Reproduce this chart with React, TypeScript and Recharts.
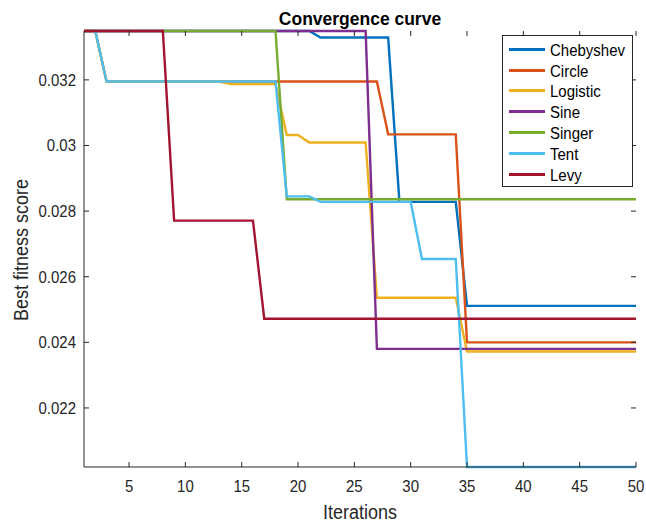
import React from 'react';
import { LineChart, Line, XAxis, YAxis } from 'recharts';

// ---------- data ----------
const iterations = [
  1, 2, 3, 4, 5, 6, 7, 8, 9, 10,
  11, 12, 13, 14, 15, 16, 17, 18, 19, 20,
  21, 22, 23, 24, 25, 26, 27, 28, 29, 30,
  31, 32, 33, 34, 35, 36, 37, 38, 39, 40,
  41, 42, 43, 44, 45, 46, 47, 48, 49, 50,
];

const chebyshev = [
  0.03349, 0.03349, 0.03349, 0.03349, 0.03349, 0.03349, 0.03349, 0.03349, 0.03349, 0.03349,
  0.03349, 0.03349, 0.03349, 0.03349, 0.03349, 0.03349, 0.03349, 0.03349, 0.03349, 0.03349,
  0.03349, 0.03329, 0.03329, 0.03329, 0.03329, 0.03329, 0.03329, 0.03329, 0.02828, 0.02828,
  0.02828, 0.02828, 0.02828, 0.02828, 0.02511, 0.02511, 0.02511, 0.02511, 0.02511, 0.02511,
  0.02511, 0.02511, 0.02511, 0.02511, 0.02511, 0.02511, 0.02511, 0.02511, 0.02511, 0.02511,
];

const circle = [
  0.03349, 0.03349, 0.03195, 0.03195, 0.03195, 0.03195, 0.03195, 0.03195, 0.03195, 0.03195,
  0.03195, 0.03195, 0.03195, 0.03195, 0.03195, 0.03195, 0.03195, 0.03195, 0.03195, 0.03195,
  0.03195, 0.03195, 0.03195, 0.03195, 0.03195, 0.03195, 0.03195, 0.03034, 0.03034, 0.03034,
  0.03034, 0.03034, 0.03034, 0.03034, 0.024, 0.024, 0.024, 0.024, 0.024, 0.024,
  0.024, 0.024, 0.024, 0.024, 0.024, 0.024, 0.024, 0.024, 0.024, 0.024,
];

const logistic = [
  0.03349, 0.03349, 0.03195, 0.03195, 0.03195, 0.03195, 0.03195, 0.03195, 0.03195, 0.03195,
  0.03195, 0.03195, 0.03195, 0.03187, 0.03187, 0.03187, 0.03187, 0.03187, 0.03032, 0.03032,
  0.03009, 0.03009, 0.03009, 0.03009, 0.03009, 0.03009, 0.02536, 0.02536, 0.02536, 0.02536,
  0.02536, 0.02536, 0.02536, 0.02536, 0.02372, 0.02372, 0.02372, 0.02372, 0.02372, 0.02372,
  0.02372, 0.02372, 0.02372, 0.02372, 0.02372, 0.02372, 0.02372, 0.02372, 0.02372, 0.02372,
];

const sine = [
  0.03349, 0.03349, 0.03349, 0.03349, 0.03349, 0.03349, 0.03349, 0.03349, 0.03349, 0.03349,
  0.03349, 0.03349, 0.03349, 0.03349, 0.03349, 0.03349, 0.03349, 0.03349, 0.03349, 0.03349,
  0.03349, 0.03349, 0.03349, 0.03349, 0.03349, 0.03349, 0.0238, 0.0238, 0.0238, 0.0238,
  0.0238, 0.0238, 0.0238, 0.0238, 0.0238, 0.0238, 0.0238, 0.0238, 0.0238, 0.0238,
  0.0238, 0.0238, 0.0238, 0.0238, 0.0238, 0.0238, 0.0238, 0.0238, 0.0238, 0.0238,
];

const singer = [
  0.03349, 0.03349, 0.03349, 0.03349, 0.03349, 0.03349, 0.03349, 0.03349, 0.03349, 0.03349,
  0.03349, 0.03349, 0.03349, 0.03349, 0.03349, 0.03349, 0.03349, 0.03349, 0.02836, 0.02836,
  0.02836, 0.02836, 0.02836, 0.02836, 0.02836, 0.02836, 0.02836, 0.02836, 0.02836, 0.02836,
  0.02836, 0.02836, 0.02836, 0.02836, 0.02836, 0.02836, 0.02836, 0.02836, 0.02836, 0.02836,
  0.02836, 0.02836, 0.02836, 0.02836, 0.02836, 0.02836, 0.02836, 0.02836, 0.02836, 0.02836,
];

const tent = [
  0.03349, 0.03349, 0.03195, 0.03195, 0.03195, 0.03195, 0.03195, 0.03195, 0.03195, 0.03195,
  0.03195, 0.03195, 0.03195, 0.03195, 0.03195, 0.03195, 0.03195, 0.03195, 0.02845, 0.02845,
  0.02845, 0.02828, 0.02828, 0.02828, 0.02828, 0.02828, 0.02828, 0.02828, 0.02828, 0.02828,
  0.02654, 0.02654, 0.02654, 0.02654, 0.0202, 0.0202, 0.0202, 0.0202, 0.0202, 0.0202,
  0.0202, 0.0202, 0.0202, 0.0202, 0.0202, 0.0202, 0.0202, 0.0202, 0.0202, 0.0202,
];

const levy = [
  0.03349, 0.03349, 0.03349, 0.03349, 0.03349, 0.03349, 0.03349, 0.03349, 0.02771, 0.02771,
  0.02771, 0.02771, 0.02771, 0.02771, 0.02771, 0.02771, 0.02472, 0.02472, 0.02472, 0.02472,
  0.02472, 0.02472, 0.02472, 0.02472, 0.02472, 0.02472, 0.02472, 0.02472, 0.02472, 0.02472,
  0.02472, 0.02472, 0.02472, 0.02472, 0.02472, 0.02472, 0.02472, 0.02472, 0.02472, 0.02472,
  0.02472, 0.02472, 0.02472, 0.02472, 0.02472, 0.02472, 0.02472, 0.02472, 0.02472, 0.02472,
];

const seriesNames = ['Chebyshev', 'Circle', 'Logistic', 'Sine', 'Singer', 'Tent', 'Levy'];
const seriesValues = [chebyshev, circle, logistic, sine, singer, tent, levy];
const seriesColors = ['#0072BD', '#D95319', '#EDB120', '#7E2F8E', '#77AC30', '#4DBEEE', '#A2142F'];

const xTicks = [5, 10, 15, 20, 25, 30, 35, 40, 45, 50];
const yTicks = [0.022, 0.024, 0.026, 0.028, 0.03, 0.032];
const yTickLabels = ['0.022', '0.024', '0.026', '0.028', '0.03', '0.032'];

const titleText = 'Convergence curve';
const xLabelText = 'Iterations';
const yLabelText = 'Best fitness score';

// ---------- derived ----------
const data = iterations.map((it, i) => {
  const row: Record<string, number> = { iter: it };
  seriesNames.forEach((n, k) => {
    row[n] = seriesValues[k][i];
  });
  return row;
});
const allVals = seriesValues.flat();
const yMin = Math.min(...allVals);
const yMax = Math.max(...allVals);
const xMin = iterations[0];
const xMax = iterations[iterations.length - 1];

// ---------- layout ----------
const W = 646;
const H = 524;
const PLOT_LEFT = 84;
const PLOT_RIGHT = 636;
const PLOT_TOP = 31;
const PLOT_BOTTOM = 467;
const TICK_LEN = 5;
const AX = '#262626';
const FONT = '"Liberation Sans", Arial, Helvetica, sans-serif';
const STRETCH = 1.1;

const XTick = (props: any) => {
  const { x, payload } = props;
  return (
    <g>
      <line x1={x} x2={x} y1={PLOT_BOTTOM} y2={PLOT_BOTTOM - TICK_LEN} stroke={AX} strokeWidth={1} />
      <line x1={x} x2={x} y1={PLOT_TOP} y2={PLOT_TOP + TICK_LEN} stroke={AX} strokeWidth={1} />
      <text
        transform={`translate(${x} 492) scale(1 ${STRETCH})`}
        x={0}
        y={0}
        textAnchor="middle"
        fontSize={15}
        fill={AX}
        fontFamily={FONT}
      >
        {payload.value}
      </text>
    </g>
  );
};

const YTick = (props: any) => {
  const { y, payload } = props;
  const idx = yTicks.indexOf(payload.value);
  const label = idx >= 0 ? yTickLabels[idx] : String(payload.value);
  return (
    <g>
      <line x1={PLOT_LEFT} x2={PLOT_LEFT + TICK_LEN} y1={y} y2={y} stroke={AX} strokeWidth={1} />
      <line x1={PLOT_RIGHT} x2={PLOT_RIGHT - TICK_LEN} y1={y} y2={y} stroke={AX} strokeWidth={1} />
      <text
        transform={`translate(76 ${y + 6}) scale(1 ${STRETCH})`}
        x={0}
        y={0}
        textAnchor="end"
        fontSize={15}
        fill={AX}
        fontFamily={FONT}
      >
        {label}
      </text>
    </g>
  );
};

export default function App() {
  const midY = (PLOT_TOP + PLOT_BOTTOM) / 2 + 1;
  return (
    <div
      style={{
        position: 'absolute',
        left: 0,
        top: 0,
        width: W,
        height: H,
        background: '#ffffff',
        overflow: 'hidden',
      }}
    >
      <LineChart
        width={W}
        height={H}
        data={data}
        margin={{ top: PLOT_TOP, right: W - PLOT_RIGHT, bottom: 0, left: 0 }}
      >
        <XAxis
          dataKey="iter"
          type="number"
          domain={[xMin, xMax]}
          ticks={xTicks}
          interval={0}
          height={H - PLOT_BOTTOM}
          axisLine={{ stroke: AX, strokeWidth: 1 }}
          tickLine={false}
          tick={<XTick />}
        />
        <XAxis
          xAxisId="top"
          orientation="top"
          dataKey="iter"
          type="number"
          domain={[xMin, xMax]}
          height={0}
          tick={false}
          tickLine={false}
          axisLine={{ stroke: AX, strokeWidth: 1 }}
        />
        <YAxis
          type="number"
          domain={[yMin, yMax]}
          ticks={yTicks}
          interval={0}
          width={PLOT_LEFT}
          axisLine={{ stroke: AX, strokeWidth: 1 }}
          tickLine={false}
          tick={<YTick />}
        />
        <YAxis
          yAxisId="right"
          orientation="right"
          type="number"
          domain={[yMin, yMax]}
          width={0}
          tick={false}
          tickLine={false}
          axisLine={{ stroke: AX, strokeWidth: 1 }}
        />
        {seriesNames.map((n, k) => (
          <Line
            key={n}
            type="linear"
            dataKey={n}
            stroke={seriesColors[k]}
            strokeWidth={2.4}
            dot={false}
            activeDot={false}
            isAnimationActive={false}
          />
        ))}
      </LineChart>

      <svg
        width={W}
        height={H}
        style={{ position: 'absolute', left: 0, top: 0, pointerEvents: 'none' }}
      >
        <text
          transform={`translate(${(PLOT_LEFT + PLOT_RIGHT) / 2} 24.5) scale(1 ${STRETCH})`}
          x={0}
          y={0}
          textAnchor="middle"
          fontSize={17.5}
          fontWeight="bold"
          fill="#000"
          fontFamily={FONT}
        >
          {titleText}
        </text>
        <text
          transform={`translate(${(PLOT_LEFT + PLOT_RIGHT) / 2} 519) scale(1 ${STRETCH})`}
          x={0}
          y={0}
          textAnchor="middle"
          fontSize={18}
          fill={AX}
          fontFamily={FONT}
        >
          {xLabelText}
        </text>
        <text
          transform={`translate(28 ${midY}) rotate(-90) scale(1 ${STRETCH})`}
          x={0}
          y={0}
          textAnchor="middle"
          fontSize={18}
          fill={AX}
          fontFamily={FONT}
        >
          {yLabelText}
        </text>
      </svg>

      <div
        style={{
          position: 'absolute',
          left: 502,
          top: 35,
          width: 131,
          height: 152,
          boxSizing: 'border-box',
          border: `1px solid ${AX}`,
          background: '#ffffff',
          paddingTop: 3,
          paddingLeft: 6,
          fontFamily: FONT,
          fontSize: 15,
          color: '#000',
        }}
      >
        {seriesNames.map((n, k) => (
          <div
            key={n}
            style={{ display: 'flex', alignItems: 'center', height: 20.8, whiteSpace: 'nowrap' }}
          >
            <div style={{ width: 36, height: 3, background: seriesColors[k] }} />
            <span
              style={{
                marginLeft: 5,
                lineHeight: '17px',
                display: 'inline-block',
                transform: `scaleY(${STRETCH})`,
              }}
            >
              {n}
            </span>
          </div>
        ))}
      </div>
    </div>
  );
}
